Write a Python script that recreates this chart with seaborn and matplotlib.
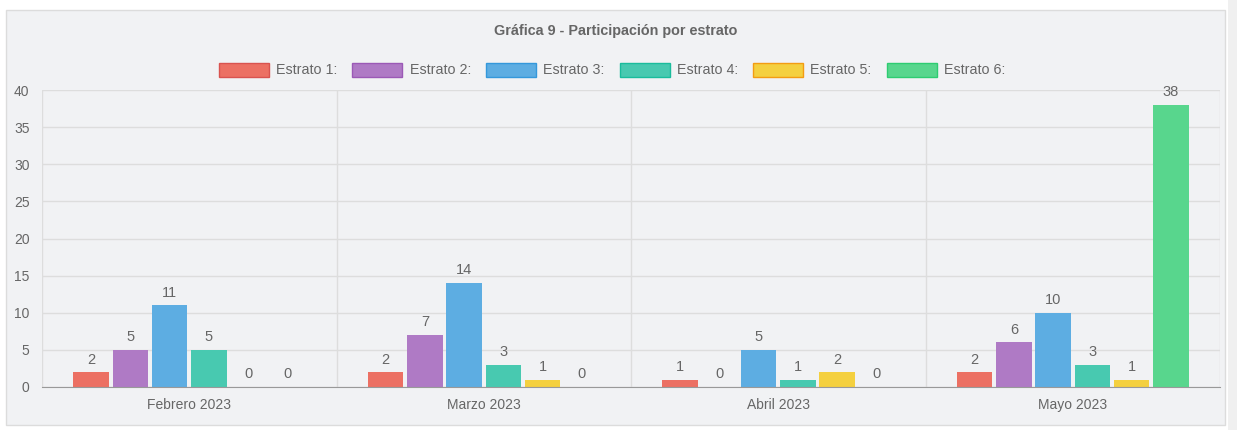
import pandas as pd
import numpy as np
import matplotlib
matplotlib.use('Agg')
import matplotlib.pyplot as plt
import seaborn as sns
from matplotlib.patches import Rectangle

meses = ['Febrero 2023', 'Marzo 2023', 'Abril 2023', 'Mayo 2023']
estratos = ['Estrato 1:', 'Estrato 2:', 'Estrato 3:', 'Estrato 4:', 'Estrato 5:', 'Estrato 6:']
estrato_1 = [2, 2, 1, 2]
estrato_2 = [5, 7, 0, 6]
estrato_3 = [11, 14, 5, 10]
estrato_4 = [5, 3, 1, 3]
estrato_5 = [0, 1, 2, 1]
estrato_6 = [0, 0, 0, 38]
colores = ['#ec7063', '#af7ac5', '#5dade2', '#48c9b0', '#f4d03f', '#58d68d']
bordes = ['#d9534f', '#9b59b6', '#3498db', '#1abc9c', '#f39c12', '#2ecc71']

series = [estrato_1, estrato_2, estrato_3, estrato_4, estrato_5, estrato_6]
rows = []
for est, vals in zip(estratos, series):
    for mes, v in zip(meses, vals):
        rows.append({'mes': mes, 'estrato': est, 'valor': v})
df = pd.DataFrame(rows)

sns.set_style('white')
plt.rcParams['font.family'] = ['Liberation Sans', 'DejaVu Sans']

W, H = 1237, 430
fig = plt.figure(figsize=(W / 100, H / 100), dpi=100)
fig.patch.set_facecolor('white')

# panel background
panel = Rectangle((6 / W, 5 / H), 1219 / W, 415 / H, transform=fig.transFigure,
                  facecolor='#f1f2f4', edgecolor='#dcdcdc', lw=1, zorder=-10)
fig.patches.append(panel)
strip = Rectangle((1228 / W, 0), 9 / W, 1, transform=fig.transFigure,
                  facecolor='#f0f0f0', edgecolor='none', zorder=-10)
fig.patches.append(strip)

ax = fig.add_axes([42 / W, (430 - 387) / H, (1220 - 42) / W, (387 - 90) / H])
ax.set_facecolor('none')

sns.barplot(data=df, x='mes', y='valor', hue='estrato', palette=colores,
            width=0.8, gap=0.1, ax=ax, edgecolor='none', saturation=1)

for c in ax.containers:
    ax.bar_label(c, padding=4, color='#666666', fontsize=10.5)

handles, labels = ax.get_legend_handles_labels()
ax.get_legend().remove()
for h, b in zip(handles, bordes):
    h.set_edgecolor(b)
    h.set_linewidth(1)
fig.legend(handles, labels, loc='center', bbox_to_anchor=(612 / W, (430 - 70) / H), ncol=6,
           frameon=False, fontsize=10.3, handlelength=3.5, handleheight=1.12,
           handletextpad=0.5, columnspacing=1.05, labelcolor='#666666')

fig.text(615.5 / W, (430 - 31) / H, 'Gráfica 9 - Participación por estrato', ha='center', va='center',
         fontsize=10.4, fontweight='bold', color='#666666')

ax.set_ylim(0, 40)
ax.set_xlim(-0.5, 3.5)
ax.set_yticks(np.arange(0, 41, 5))
ax.grid(axis='y', color='#dddddd', lw=1)
ax.set_axisbelow(True)
ax.set_xticks(np.arange(-0.5, 3.6, 1), minor=True)
ax.grid(axis='x', which='minor', color='#dddddd', lw=1)
ax.tick_params(axis='x', which='major', length=0, pad=8, labelsize=10, labelcolor='#666666')
ax.tick_params(axis='x', which='minor', length=10, color='#dddddd', width=1)
ax.tick_params(axis='y', length=7, color='#dddddd', labelsize=10, labelcolor='#666666', pad=2)
ax.set_xlabel('')
ax.set_ylabel('')
for s in ['top', 'right', 'left']:
    ax.spines[s].set_visible(False)
ax.spines['bottom'].set_color('#999999')

fig.savefig('out.png', dpi=100)
